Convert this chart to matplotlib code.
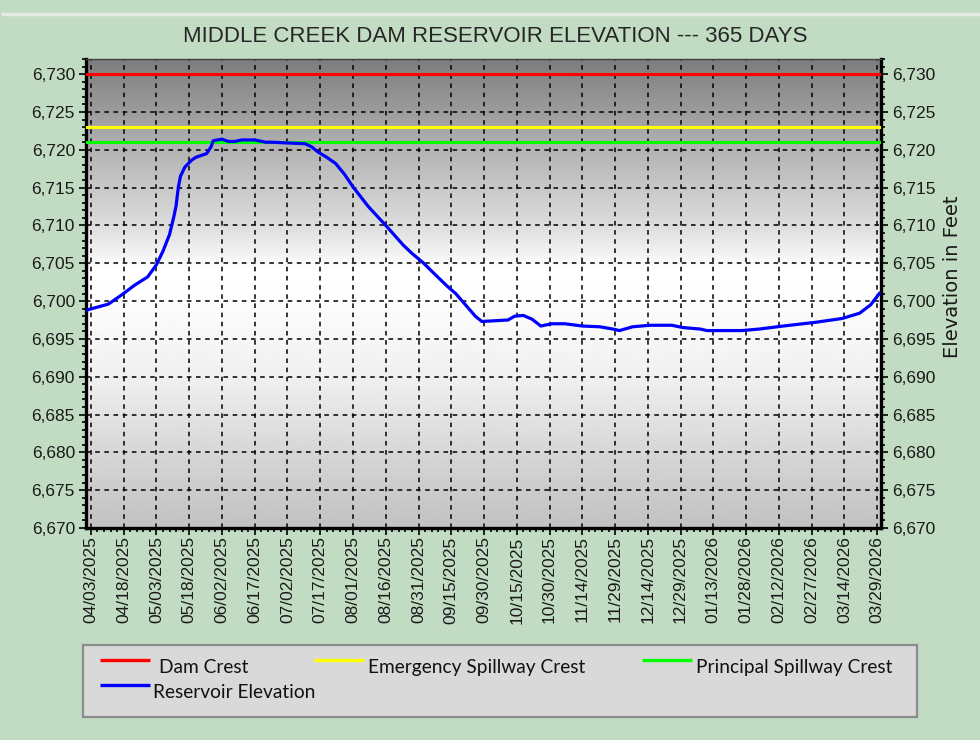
import matplotlib
matplotlib.use('Agg')
import matplotlib.pyplot as plt
import numpy as np
import pandas as pd
from matplotlib.ticker import MultipleLocator, FixedLocator, FuncFormatter
from matplotlib.lines import Line2D
from matplotlib.patches import Rectangle

# reservoir elevation readings (ft)
obs_dates = ['2025-04-01', '2025-04-06', '2025-04-11', '2025-04-17', '2025-04-23',
             '2025-04-29', '2025-05-03', '2025-05-06', '2025-05-09', '2025-05-11',
             '2025-05-12', '2025-05-13', '2025-05-14', '2025-05-16', '2025-05-19',
             '2025-05-21', '2025-05-26', '2025-05-28', '2025-05-29', '2025-06-02',
             '2025-06-05', '2025-06-08', '2025-06-11', '2025-06-17', '2025-06-22',
             '2025-06-25', '2025-07-02', '2025-07-10', '2025-07-13', '2025-07-16',
             '2025-07-20', '2025-07-24', '2025-07-28', '2025-08-01', '2025-08-08',
             '2025-08-16', '2025-08-24', '2025-08-28', '2025-09-02', '2025-09-08',
             '2025-09-13', '2025-09-17', '2025-09-23', '2025-09-26', '2025-09-29',
             '2025-10-05', '2025-10-11', '2025-10-14', '2025-10-18', '2025-10-22',
             '2025-10-26', '2025-10-31', '2025-11-06', '2025-11-14', '2025-11-22',
             '2025-11-28', '2025-12-01', '2025-12-07', '2025-12-15', '2025-12-25',
             '2025-12-30', '2026-01-07', '2026-01-10', '2026-01-26', '2026-02-03',
             '2026-02-14', '2026-03-01', '2026-03-13', '2026-03-21', '2026-03-26',
             '2026-03-30']
elevation = [6698.8, 6699.2, 6699.6, 6700.8, 6702.1,
             6703.2, 6704.8, 6706.6, 6708.8, 6711.2,
             6712.6, 6715.0, 6716.5, 6717.7, 6718.6,
             6719.0, 6719.5, 6720.4, 6721.2, 6721.4,
             6721.1, 6721.1, 6721.3, 6721.3, 6721.0,
             6721.0, 6720.9, 6720.8, 6720.4, 6719.7,
             6719.0, 6718.2, 6716.8, 6715.1, 6712.5,
             6710.0, 6707.4, 6706.3, 6705.1, 6703.4,
             6702.0, 6701.0, 6699.0, 6698.0, 6697.3,
             6697.4, 6697.5, 6698.0, 6698.1, 6697.6,
             6696.7, 6697.0, 6697.0, 6696.7, 6696.6,
             6696.3, 6696.1, 6696.6, 6696.8, 6696.8,
             6696.5, 6696.3, 6696.1, 6696.1, 6696.3,
             6696.7, 6697.2, 6697.7, 6698.4, 6699.5,
             6701.0]

crest_names = ['Dam Crest', 'Emergency Spillway Crest', 'Principal Spillway Crest']
crest_levels = [6730, 6723, 6721]
crest_colors = ['#ff0000', '#ffff00', '#00ff00']

tick_labels = ['04/03/2025', '04/18/2025', '05/03/2025', '05/18/2025', '06/02/2025',
               '06/17/2025', '07/02/2025', '07/17/2025', '08/01/2025', '08/16/2025',
               '08/31/2025', '09/15/2025', '09/30/2025', '10/15/2025', '10/30/2025',
               '11/14/2025', '11/29/2025', '12/14/2025', '12/29/2025', '01/13/2026',
               '01/28/2026', '02/12/2026', '02/27/2026', '03/14/2026', '03/29/2026']

x = pd.to_datetime(obs_dates)
tick_dates = pd.to_datetime(tick_labels, format='%m/%d/%Y')
minor_dates = pd.date_range('2025-03-31', '2026-03-31', freq='3D')

bg = '#c1dcc2'
fig = plt.figure(figsize=(9.8, 7.4), dpi=100, facecolor=bg)
ax = fig.add_axes([86 / 980, 1 - 528 / 740, (881 - 86) / 980, (528 - 59) / 740])

# gray-white-gray gradient behind the plot
stops = [0, 0.16, 0.32, 0.48, 0.55, 0.65, 0.81, 1.0]
shade = [0.76, 0.84, 0.94, 0.99, 1.0, 0.86, 0.70, 0.49]
grad = np.interp(np.linspace(0, 1, 300), stops, shade)
ax.imshow(grad[:, None], extent=(0, 1, 0, 1), transform=ax.transAxes, origin='lower',
          cmap='gray', vmin=0, vmax=1, aspect='auto', zorder=0)

for name, lvl, col in zip(crest_names, crest_levels, crest_colors):
    ax.axhline(lvl, color=col, lw=2.2, zorder=3)
ax.plot(x, elevation, color='#0000ff', lw=2.3, zorder=4)

ax.set_xlim(pd.Timestamp('2025-03-31 18:00'), pd.Timestamp('2026-03-30 18:00'))
ax.set_ylim(6670, 6732)
ax.set_axisbelow(True)

ax.xaxis.set_major_locator(FixedLocator(matplotlib.dates.date2num(tick_dates)))
ax.xaxis.set_minor_locator(FixedLocator(matplotlib.dates.date2num(minor_dates)))
ax.set_xticklabels(tick_labels, rotation=90, fontsize=12.5, family='Liberation Sans',
                   color='#1a1a1a')
ax.yaxis.set_major_locator(MultipleLocator(5))
ax.yaxis.set_minor_locator(MultipleLocator(1))
ax.yaxis.set_major_formatter(FuncFormatter(lambda v, p: f'{v:,.0f}'))

ax.grid(which='major', color='black', linestyle=(0, (3, 3)), linewidth=1.1)
ax.tick_params(axis='y', which='both', left=True, right=True, labelleft=True,
               labelright=True, labelsize=12.5, labelcolor='#1a1a1a', direction='out',
               pad=3)
ax.tick_params(axis='y', which='major', length=5, width=1.2)
ax.tick_params(axis='y', which='minor', length=3, width=1.2)
ax.tick_params(axis='x', which='major', length=5, width=1.2, pad=1)
ax.tick_params(axis='x', which='minor', length=3, width=1.2)
for lab in ax.get_yticklabels():
    lab.set_family('Liberation Sans')

for side in ['left', 'right', 'bottom']:
    ax.spines[side].set_linewidth(2.4)
    ax.spines[side].set_color('black')
ax.spines['top'].set_linewidth(1.0)
ax.spines['top'].set_color('#404040')

ax.yaxis.set_label_position('right')
ax.set_ylabel('Elevation in Feet', fontsize=14, family='DejaVu Sans', color='#1a1a1a')
ax.yaxis.set_label_coords((943 - 86) / 795, (528 - 277) / 469)

fig.text(495 / 980, 1 - 36 / 740, 'MIDDLE CREEK DAM RESERVOIR ELEVATION --- 365 DAYS',
         ha='center', va='center', fontsize=16, family='Liberation Sans', color='#262626')

# thin light rule across the top of the panel
fig.add_artist(Line2D([3 / 980, 1], [1 - 14 / 740, 1 - 14 / 740], color='#e6ebe6', lw=2.5))

# legend panel
lax = fig.add_axes([83 / 980, 1 - 717 / 740, (917 - 83) / 980, (717 - 645) / 740])
lax.set_xlim(83, 917)
lax.set_ylim(717, 645)
lax.axis('off')
lax.add_patch(Rectangle((0, 0), 1, 1, transform=lax.transAxes, facecolor='#d9d9d9',
                        edgecolor='#8c8c8c', lw=1.6, clip_on=False))
leg_names = crest_names + ['Reservoir Elevation']
leg_colors = crest_colors + ['#0000ff']
leg_x = [100, 314, 642, 100]
leg_text_x = [159, 368, 696, 153]
leg_y = [660, 660, 660, 685]
for name, col, lx, tx, ly in zip(leg_names, leg_colors, leg_x, leg_text_x, leg_y):
    lax.plot([lx, lx + 50], [ly, ly], color=col, lw=2.4, solid_capstyle='butt')
    lax.text(tx, ly + 7, name, ha='left', va='center', fontsize=13.8,
             family='Lato', color='#111111')

fig.savefig('out.png', dpi=100, facecolor=bg)
